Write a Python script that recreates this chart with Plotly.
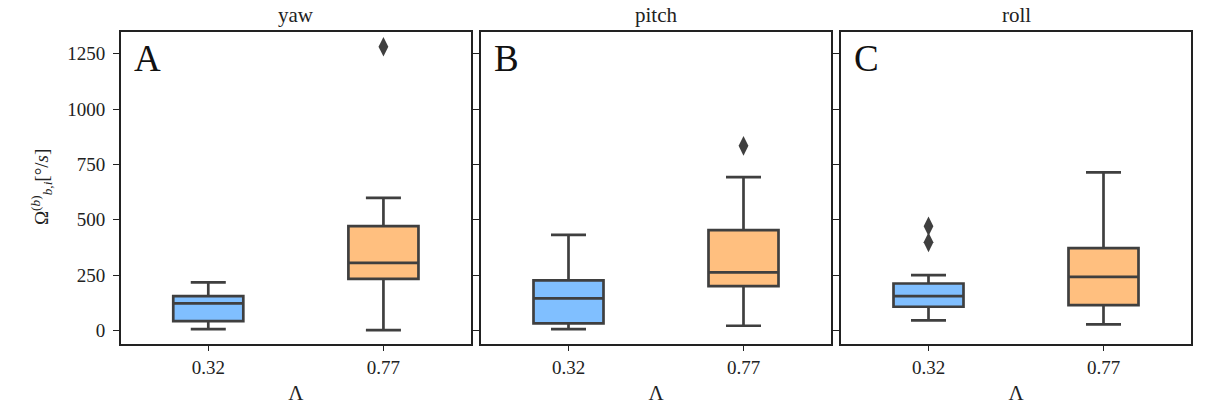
import plotly.graph_objects as go

categories = ["0.32", "0.77"]
panels = ["yaw", "pitch", "roll"]
letters = ["A", "B", "C"]

# per panel: [blue(0.32), orange(0.77)]
q1 = {"yaw": [42, 233], "pitch": [32, 200], "roll": [107, 114]}
median = {"yaw": [122, 305], "pitch": [145, 262], "roll": [155, 242]}
q3 = {"yaw": [155, 471], "pitch": [226, 453], "roll": [212, 372]}
lowerfence = {"yaw": [6, 1], "pitch": [6, 21], "roll": [45, 27]}
upperfence = {"yaw": [217, 599], "pitch": [432, 693], "roll": [250, 714]}
outliers = {
    "yaw": [[], [1282]],
    "pitch": [[], [834]],
    "roll": [[471, 398], []],
}
y_ticks = [0, 250, 500, 750, 1000, 1250]

fills = ["#80bfff", "#ffbf7f"]
line_col = "#3f3f3f"
FONT = "Liberation Serif, Times New Roman, serif"

W, H = 1215, 405
x_doms = [(120.7, 471), (481, 831), (841, 1191)]
y_dom = [1 - 343.7 / H, 1 - 32.3 / H]

fig = go.Figure()
layout = {}
for i, p in enumerate(panels):
    xa = "x" if i == 0 else f"x{i+1}"
    ya = "y" if i == 0 else f"y{i+1}"
    for j in range(2):
        fig.add_trace(go.Box(
            x=[j], q1=[q1[p][j]], median=[median[p][j]], q3=[q3[p][j]],
            lowerfence=[lowerfence[p][j]], upperfence=[upperfence[p][j]],
            width=0.4, whiskerwidth=0.5, fillcolor=fills[j],
            line=dict(color=line_col, width=2.7), boxpoints=False,
            xaxis=xa, yaxis=ya, showlegend=False, hoverinfo="skip",
        ))
        if outliers[p][j]:
            fig.add_trace(go.Scatter(
                x=[j] * len(outliers[p][j]), y=outliers[p][j], mode="markers",
                marker=dict(symbol="diamond-tall", size=14, color=line_col),
                xaxis=xa, yaxis=ya, showlegend=False, hoverinfo="skip",
            ))
    xk = "xaxis" if i == 0 else f"xaxis{i+1}"
    yk = "yaxis" if i == 0 else f"yaxis{i+1}"
    layout[xk] = dict(
        domain=[x_doms[i][0] / W, x_doms[i][1] / W], anchor=ya,
        range=[-0.5, 1.5], tickvals=[0, 1], ticktext=categories,
        ticks="outside", ticklen=6, tickwidth=1.2, tickcolor="#222",
        showline=True, linecolor="#222", linewidth=1.5, mirror=True,
        showgrid=False, zeroline=False, automargin=False,
        ticklabelstandoff=0,
        tickfont=dict(family=FONT, size=19, color="#222"),
        title=dict(text="Λ", font=dict(family=FONT, size=21, color="#222"), standoff=8),
    )
    layout[yk] = dict(
        domain=y_dom, anchor=xa, range=[-60, 1347],
        tickvals=y_ticks, showticklabels=(i == 0),
        ticks="outside", ticklen=6, tickwidth=1.2, tickcolor="#222",
        showline=True, linecolor="#222", linewidth=1.5, mirror=True,
        showgrid=False, zeroline=False, automargin=False,
        ticklabelstandoff=4,
        tickfont=dict(family=FONT, size=19, color="#222"),
    )

annotations = []
for i, p in enumerate(panels):
    cx = (x_doms[i][0] + x_doms[i][1]) / 2 / W
    annotations.append(dict(
        text=p, x=cx, y=1 - 15 / H, xref="paper", yref="paper",
        showarrow=False, xanchor="center", yanchor="middle",
        font=dict(family=FONT, size=21, color="#222"),
    ))
    annotations.append(dict(
        text=letters[i], x=(x_doms[i][0] + 11) / W, y=1 - 58 / H,
        xref="paper", yref="paper", showarrow=False,
        xanchor="left", yanchor="middle",
        font=dict(family=FONT, size=37, color="#111"),
    ))
annotations.append(dict(
    text="Ω<sup>(<i>b</i>)</sup><sub><i>b,i</i></sub>[°/<i>s</i>]",
    x=42 / W, y=1 - 187 / H, xref="paper", yref="paper", showarrow=False,
    textangle=-90, xanchor="center", yanchor="middle",
    font=dict(family=FONT, size=19, color="#222"),
))

fig.update_layout(
    width=W, height=H, margin=dict(l=0, r=0, t=0, b=0),
    paper_bgcolor="white", plot_bgcolor="white",
    font=dict(family=FONT),
    annotations=annotations, **layout,
)
fig.write_html("out.html")
